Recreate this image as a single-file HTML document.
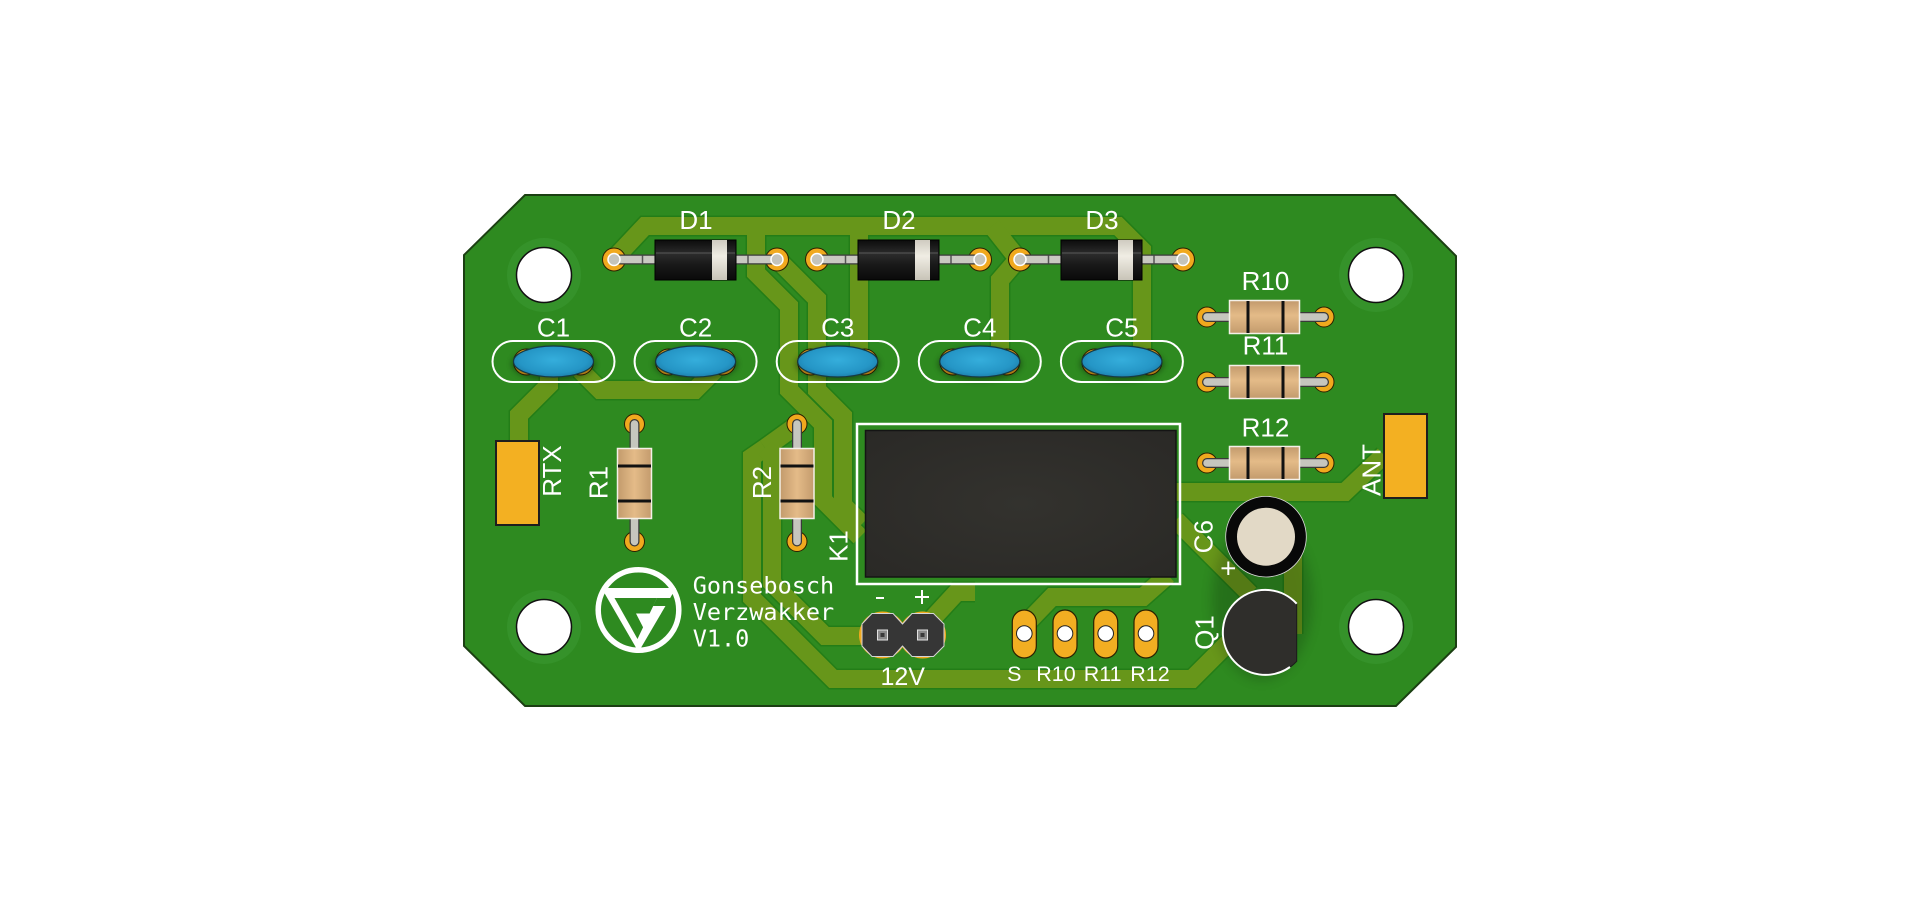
<!DOCTYPE html>
<html><head><meta charset="utf-8"><style>
html,body{margin:0;padding:0;background:#fff;}
svg{display:block;}
text{font-family:"Liberation Sans",Arial,sans-serif;fill:#fff;}
.mono{font-family:"DejaVu Sans Mono","Liberation Mono",monospace;}
</style></head><body>
<svg width="1920" height="902" viewBox="0 0 1920 902" xmlns="http://www.w3.org/2000/svg">
<defs>
<linearGradient id="dbody" x1="0" y1="0" x2="0" y2="1">
<stop offset="0" stop-color="#0c0c0c"/><stop offset="0.35" stop-color="#2c2c2c"/><stop offset="0.6" stop-color="#1a1a1a"/><stop offset="1" stop-color="#0a0a0a"/></linearGradient>
<linearGradient id="band" x1="0" y1="0" x2="0" y2="1">
<stop offset="0" stop-color="#cfcbc0"/><stop offset="0.4" stop-color="#f0ede4"/><stop offset="1" stop-color="#c8c4b8"/></linearGradient>
<linearGradient id="rbodyH" x1="0" y1="0" x2="0" y2="1">
<stop offset="0" stop-color="#c29a6c"/><stop offset="0.45" stop-color="#e4bb88"/><stop offset="1" stop-color="#c39b6d"/></linearGradient>
<linearGradient id="rbodyV" x1="0" y1="0" x2="1" y2="0">
<stop offset="0" stop-color="#c29a6c"/><stop offset="0.5" stop-color="#e4bb88"/><stop offset="1" stop-color="#c39b6d"/></linearGradient>
<radialGradient id="blue" cx="0.5" cy="0.45" r="0.6">
<stop offset="0" stop-color="#35aedc"/><stop offset="0.7" stop-color="#2596c6"/><stop offset="1" stop-color="#1a7aa6"/></radialGradient>
<radialGradient id="relay" cx="0.5" cy="0.5" r="0.7">
<stop offset="0" stop-color="#33322e"/><stop offset="1" stop-color="#2a2926"/></radialGradient>
<filter id="blur6" x="-50%" y="-50%" width="200%" height="200%"><feGaussianBlur stdDeviation="6"/></filter>
<filter id="blur3" x="-50%" y="-50%" width="200%" height="200%"><feGaussianBlur stdDeviation="3"/></filter>
</defs>

<polygon points="525,195 1395,195 1456,256 1456,647 1396,706 525,706 464,646 464,255" fill="#2e8a20" stroke="#1b3f12" stroke-width="2"/>

<g fill="#35922a">
<circle cx="544" cy="275" r="37"/><circle cx="1376" cy="275" r="37"/>
<circle cx="544" cy="627" r="37"/><circle cx="1376" cy="627" r="37"/>
</g>

<g fill="none" stroke-linejoin="miter" stroke-linecap="butt">
<g stroke="#237d17" stroke-width="21">
<polyline points="614,259 645,226 1118,226 1142,250 1142,352"/>
<polyline points="992,226 1018,259 1000,280 1000,352"/>
<polyline points="859,226 859,350"/>
<polyline points="756,226 756,273 789,306 789,390 823,424 823,500 860,537"/>
<polyline points="777,259 817,299 817,390 843,416 843,505 862,524"/>
<polyline points="797,425 765,448"/>
<polyline points="765,448 752,457 752,598 833,679 1192,679 1228,643"/>
<polyline points="765,448 772,455 772,583 825,636 882,636"/>
<polyline points="922,630 957,592 975,592"/>
<polyline points="1025,625 1052,597 1143,597 1168,575"/>
<polyline points="1176,492 1345,492 1384,455"/>
<polyline points="1176,520 1250,594"/>
<polyline points="1293,552 1293,634"/>
<polyline points="519,442 519,415 549,385 549,374"/>
<polyline points="580,370 600,390 695,390 715,370"/>
</g>
<g stroke="#67961a" stroke-width="18">
<polyline points="614,259 645,226 1118,226 1142,250 1142,352"/>
<polyline points="992,226 1018,259 1000,280 1000,352"/>
<polyline points="859,226 859,350"/>
<polyline points="756,226 756,273 789,306 789,390 823,424 823,500 860,537"/>
<polyline points="777,259 817,299 817,390 843,416 843,505 862,524"/>
<polyline points="797,425 765,448"/>
<polyline points="765,448 752,457 752,598 833,679 1192,679 1228,643"/>
<polyline points="765,448 772,455 772,583 825,636 882,636"/>
<polyline points="922,630 957,592 975,592"/>
<polyline points="1025,625 1052,597 1143,597 1168,575"/>
<polyline points="1176,492 1345,492 1384,455"/>
<polyline points="1176,520 1250,594"/>
<polyline points="1293,552 1293,634"/>
<polyline points="519,442 519,415 549,385 549,374"/>
<polyline points="580,370 600,390 695,390 715,370"/>
</g>
</g>

<g fill="#fff" stroke="#111" stroke-width="1.5">
<circle cx="544" cy="275" r="27.5"/><circle cx="1376" cy="275" r="27.5"/>
<circle cx="544" cy="627" r="27.5"/><circle cx="1376" cy="627" r="27.5"/>
</g>

<rect x="496" y="441" width="43" height="84" fill="#f3b022" stroke="#1e1e1e" stroke-width="2"/>
<rect x="1384" y="414" width="43" height="84" fill="#f3b022" stroke="#1e1e1e" stroke-width="2"/>

<g>
<g>
<circle cx="614" cy="259.5" r="11.5" fill="#f0a91e" stroke="#2b2000"/>
<circle cx="777" cy="259.5" r="11.5" fill="#f0a91e" stroke="#2b2000"/>
<line x1="614" y1="259.5" x2="777" y2="259.5" stroke="#3a3a3a" stroke-width="10" stroke-linecap="round"/>
<line x1="614" y1="259.5" x2="777" y2="259.5" stroke="#c9c9c1" stroke-width="7.5" stroke-linecap="round"/>
<line x1="642.5" y1="255.5" x2="642.5" y2="263.5" stroke="#555" stroke-width="1.5"/>
<line x1="748" y1="255.5" x2="748" y2="263.5" stroke="#555" stroke-width="1.5"/>
<circle cx="614" cy="259.5" r="6" fill="#c4c4bc" stroke="#fff" stroke-width="1.5"/>
<circle cx="777" cy="259.5" r="6" fill="#c4c4bc" stroke="#fff" stroke-width="1.5"/>
<rect x="655" y="240" width="81" height="40" fill="url(#dbody)" stroke="#000" stroke-width="1"/>
<line x1="656" y1="253" x2="735" y2="253" stroke="#5a5a5a" stroke-width="1"/>
<rect x="712" y="240" width="15" height="40" fill="url(#band)"/>
</g>
<g>
<circle cx="817" cy="259.5" r="11.5" fill="#f0a91e" stroke="#2b2000"/>
<circle cx="980" cy="259.5" r="11.5" fill="#f0a91e" stroke="#2b2000"/>
<line x1="817" y1="259.5" x2="980" y2="259.5" stroke="#3a3a3a" stroke-width="10" stroke-linecap="round"/>
<line x1="817" y1="259.5" x2="980" y2="259.5" stroke="#c9c9c1" stroke-width="7.5" stroke-linecap="round"/>
<line x1="845.5" y1="255.5" x2="845.5" y2="263.5" stroke="#555" stroke-width="1.5"/>
<line x1="951" y1="255.5" x2="951" y2="263.5" stroke="#555" stroke-width="1.5"/>
<circle cx="817" cy="259.5" r="6" fill="#c4c4bc" stroke="#fff" stroke-width="1.5"/>
<circle cx="980" cy="259.5" r="6" fill="#c4c4bc" stroke="#fff" stroke-width="1.5"/>
<rect x="858" y="240" width="81" height="40" fill="url(#dbody)" stroke="#000" stroke-width="1"/>
<line x1="859" y1="253" x2="938" y2="253" stroke="#5a5a5a" stroke-width="1"/>
<rect x="915" y="240" width="15" height="40" fill="url(#band)"/>
</g>
<g>
<circle cx="1020" cy="259.5" r="11.5" fill="#f0a91e" stroke="#2b2000"/>
<circle cx="1183" cy="259.5" r="11.5" fill="#f0a91e" stroke="#2b2000"/>
<line x1="1020" y1="259.5" x2="1183" y2="259.5" stroke="#3a3a3a" stroke-width="10" stroke-linecap="round"/>
<line x1="1020" y1="259.5" x2="1183" y2="259.5" stroke="#c9c9c1" stroke-width="7.5" stroke-linecap="round"/>
<line x1="1048.5" y1="255.5" x2="1048.5" y2="263.5" stroke="#555" stroke-width="1.5"/>
<line x1="1154" y1="255.5" x2="1154" y2="263.5" stroke="#555" stroke-width="1.5"/>
<circle cx="1020" cy="259.5" r="6" fill="#c4c4bc" stroke="#fff" stroke-width="1.5"/>
<circle cx="1183" cy="259.5" r="6" fill="#c4c4bc" stroke="#fff" stroke-width="1.5"/>
<rect x="1061" y="240" width="81" height="40" fill="url(#dbody)" stroke="#000" stroke-width="1"/>
<line x1="1062" y1="253" x2="1141" y2="253" stroke="#5a5a5a" stroke-width="1"/>
<rect x="1118" y="240" width="15" height="40" fill="url(#band)"/>
</g>
</g>

<g>
<g fill="#f0a91e" stroke="#2b2000" stroke-width="1">
<circle cx="526.5" cy="362" r="13"/><circle cx="580.5" cy="362" r="13"/>
<circle cx="668.6" cy="362" r="13"/><circle cx="722.6" cy="362" r="13"/>
<circle cx="810.7" cy="362" r="13"/><circle cx="864.7" cy="362" r="13"/>
<circle cx="952.8" cy="362" r="13"/><circle cx="1006.8" cy="362" r="13"/>
<circle cx="1094.9" cy="362" r="13"/><circle cx="1148.9" cy="362" r="13"/>
</g>
<g fill="#000" opacity="0.35" filter="url(#blur3)">
<ellipse cx="553.5" cy="364" rx="42" ry="17"/><ellipse cx="695.6" cy="364" rx="42" ry="17"/>
<ellipse cx="837.7" cy="364" rx="42" ry="17"/><ellipse cx="979.8" cy="364" rx="42" ry="17"/>
<ellipse cx="1121.9" cy="364" rx="42" ry="17"/>
</g>
<g fill="url(#blue)" stroke="#163a44" stroke-width="1.2">
<ellipse cx="553.5" cy="361.5" rx="40" ry="15.5"/><ellipse cx="695.6" cy="361.5" rx="40" ry="15.5"/>
<ellipse cx="837.7" cy="361.5" rx="40" ry="15.5"/><ellipse cx="979.8" cy="361.5" rx="40" ry="15.5"/>
<ellipse cx="1121.9" cy="361.5" rx="40" ry="15.5"/>
</g>
<g fill="none" stroke="#fff" stroke-width="2">
<rect x="492.5" y="341" width="122" height="41" rx="20.5"/>
<rect x="634.6" y="341" width="122" height="41" rx="20.5"/>
<rect x="776.7" y="341" width="122" height="41" rx="20.5"/>
<rect x="918.8" y="341" width="122" height="41" rx="20.5"/>
<rect x="1060.9" y="341" width="122" height="41" rx="20.5"/>
</g>
</g>

<g>
<g fill="#f0a91e" stroke="#2b2000" stroke-width="1">
<circle cx="1207" cy="317" r="10"/><circle cx="1324" cy="317" r="10"/>
<circle cx="1207" cy="382" r="10"/><circle cx="1324" cy="382" r="10"/>
<circle cx="1207" cy="463" r="10"/><circle cx="1324" cy="463" r="10"/>
</g>
<g stroke-linecap="round">
<line x1="1207" y1="317" x2="1324" y2="317" stroke="#3a3a3a" stroke-width="10"/>
<line x1="1207" y1="317" x2="1324" y2="317" stroke="#c6c6be" stroke-width="7.5"/>
<line x1="1207" y1="382" x2="1324" y2="382" stroke="#3a3a3a" stroke-width="10"/>
<line x1="1207" y1="382" x2="1324" y2="382" stroke="#c6c6be" stroke-width="7.5"/>
<line x1="1207" y1="463" x2="1324" y2="463" stroke="#3a3a3a" stroke-width="10"/>
<line x1="1207" y1="463" x2="1324" y2="463" stroke="#c6c6be" stroke-width="7.5"/>
</g>
<g fill="url(#rbodyH)" stroke="#f4f0e8" stroke-width="1.5">
<rect x="1229.5" y="300.5" width="70" height="33"/>
<rect x="1229.5" y="365.5" width="70" height="33"/>
<rect x="1229.5" y="446.5" width="70" height="33"/>
</g>
<g fill="#111">
<rect x="1246.5" y="301" width="3" height="32"/><rect x="1281.5" y="301" width="3" height="32"/>
<rect x="1246.5" y="366" width="3" height="32"/><rect x="1281.5" y="366" width="3" height="32"/>
<rect x="1246.5" y="447" width="3" height="32"/><rect x="1281.5" y="447" width="3" height="32"/>
</g>
</g>

<g>
<g fill="#f0a91e" stroke="#2b2000" stroke-width="1">
<circle cx="634.5" cy="424" r="10"/><circle cx="634.5" cy="541.5" r="10"/>
<circle cx="797" cy="424" r="10"/><circle cx="797" cy="541.5" r="10"/>
</g>
<g stroke-linecap="round">
<line x1="634.5" y1="424" x2="634.5" y2="541.5" stroke="#3a3a3a" stroke-width="10"/>
<line x1="634.5" y1="424" x2="634.5" y2="541.5" stroke="#c6c6be" stroke-width="7.5"/>
<line x1="797" y1="424" x2="797" y2="541.5" stroke="#3a3a3a" stroke-width="10"/>
<line x1="797" y1="424" x2="797" y2="541.5" stroke="#c6c6be" stroke-width="7.5"/>
</g>
<g fill="url(#rbodyV)" stroke="#f4f0e8" stroke-width="1.5">
<rect x="617.5" y="448.5" width="34" height="70"/>
<rect x="780" y="448.5" width="34" height="70"/>
</g>
<g fill="#111">
<rect x="618" y="464.5" width="33" height="3"/><rect x="618" y="499.5" width="33" height="3"/>
<rect x="780.5" y="464.5" width="33" height="3"/><rect x="780.5" y="499.5" width="33" height="3"/>
</g>
</g>

<rect x="857" y="424" width="323" height="160" fill="none" stroke="#fff" stroke-width="2.5"/>
<rect x="865.5" y="430.5" width="310.5" height="146.5" fill="url(#relay)" stroke="#141414" stroke-width="1.5"/>

<g>
<circle cx="882.5" cy="635" r="23.5" fill="#f0a91e"/>
<circle cx="922.5" cy="635" r="23.5" fill="#f0a91e"/>
<path d="M872,613.5 L893,613.5 L902.5,624 L912,613.5 L933.5,613.5 L944,624 L944,646 L933.5,656.5 L912,656.5 L902.5,646 L893,656.5 L872,656.5 L862,646 L862,624 Z" fill="#363636" stroke="#d5d5d5" stroke-width="1"/>
<g fill="#8a8a8a" stroke="#e2e2e2" stroke-width="1">
<rect x="877.5" y="630" width="10" height="10"/><rect x="917.5" y="630" width="10" height="10"/>
</g>
<g fill="#3a3a3a"><rect x="880.5" y="633" width="4" height="4"/><rect x="920.5" y="633" width="4" height="4"/></g>
</g>

<g fill="#f2ae22" stroke="#2a2000" stroke-width="1.2">
<rect x="1012.3" y="610" width="24" height="48" rx="12"/>
<rect x="1053" y="610" width="24" height="48" rx="12"/>
<rect x="1093.7" y="610" width="24" height="48" rx="12"/>
<rect x="1134" y="610" width="24" height="48" rx="12"/>
</g>
<g fill="#fff" stroke="#222" stroke-width="1">
<circle cx="1024.3" cy="633.5" r="7.8"/><circle cx="1065" cy="633.5" r="7.8"/>
<circle cx="1105.7" cy="633.5" r="7.8"/><circle cx="1146" cy="633.5" r="7.8"/>
</g>

<ellipse cx="1262" cy="600" rx="50" ry="80" fill="#000" opacity="0.18" filter="url(#blur6)"/>
<circle cx="1266" cy="536.7" r="40.3" fill="#080808" stroke="#ddd" stroke-width="0.8"/>
<circle cx="1266" cy="536.7" r="29" fill="#e2d9c6"/>
<path d="M1296.7,603.7 A42.5,42.5 0 1 0 1296.7,661.3 Z" fill="#2f2e2b" stroke="#1a1a1a" stroke-width="1"/>
<path d="M1296.7,603.7 A42.5,42.5 0 1 0 1290,667" fill="none" stroke="#fff" stroke-width="2"/>

<g>
<circle cx="638.5" cy="610" r="40.3" fill="none" stroke="#fff" stroke-width="5.5"/>
<polygon points="601.5,588 676,588 638.5,652" fill="#fff"/>
<polygon points="614.5,598 657,598 637.5,639" fill="#2e8a20"/>
<polygon points="657,598 673,598 668,606 653,606" fill="#2e8a20"/>
<polygon points="636,613.5 661,613.5 646,633" fill="#fff"/>
</g>
<text class="mono" x="692.7" y="593.5" font-size="23.5">Gonsebosch</text>
<text class="mono" x="692.7" y="620" font-size="23.5">Verzwakker</text>
<text class="mono" x="692.7" y="646.5" font-size="23.5">V1.0</text>

<g font-size="26" text-anchor="middle">
<text x="696" y="229">D1</text>
<text x="899" y="229">D2</text>
<text x="1102" y="229">D3</text>
<text x="553.5" y="336.5">C1</text>
<text x="695.6" y="336.5">C2</text>
<text x="837.7" y="336.5">C3</text>
<text x="979.8" y="336.5">C4</text>
<text x="1121.9" y="336.5">C5</text>
<text x="1265.5" y="290">R10</text>
<text x="1265.5" y="354.5">R11</text>
<text x="1265.5" y="436.7">R12</text>
<text transform="translate(551.7,471) rotate(-90)" dy="0.36em">RTX</text>
<text transform="translate(598.3,482.5) rotate(-90)" dy="0.36em">R1</text>
<text transform="translate(761.7,482.5) rotate(-90)" dy="0.36em">R2</text>
<text transform="translate(838.3,546) rotate(-90)" dy="0.36em">K1</text>
<text transform="translate(1203.3,536.7) rotate(-90)" dy="0.36em">C6</text>
<text transform="translate(1204,632.5) rotate(-90)" dy="0.36em">Q1</text>
<text transform="translate(1371,470) rotate(-90)" dy="0.36em">ANT</text>
<text x="902.7" y="685" font-size="25">12V</text>
</g>
<g font-size="21.5" text-anchor="middle">
<text x="1014.3" y="681">S</text>
<text x="1056" y="681">R10</text>
<text x="1102.7" y="681">R11</text>
<text x="1150" y="681">R12</text>
</g>
<g stroke="#fff" stroke-width="2">
<line x1="876" y1="598" x2="884" y2="598"/>
<line x1="915" y1="597" x2="929" y2="597"/><line x1="922" y1="590" x2="922" y2="604"/>
<line x1="1221.5" y1="568.3" x2="1235" y2="568.3"/><line x1="1228.3" y1="561.5" x2="1228.3" y2="575"/>
</g>
</svg>
</body></html>
